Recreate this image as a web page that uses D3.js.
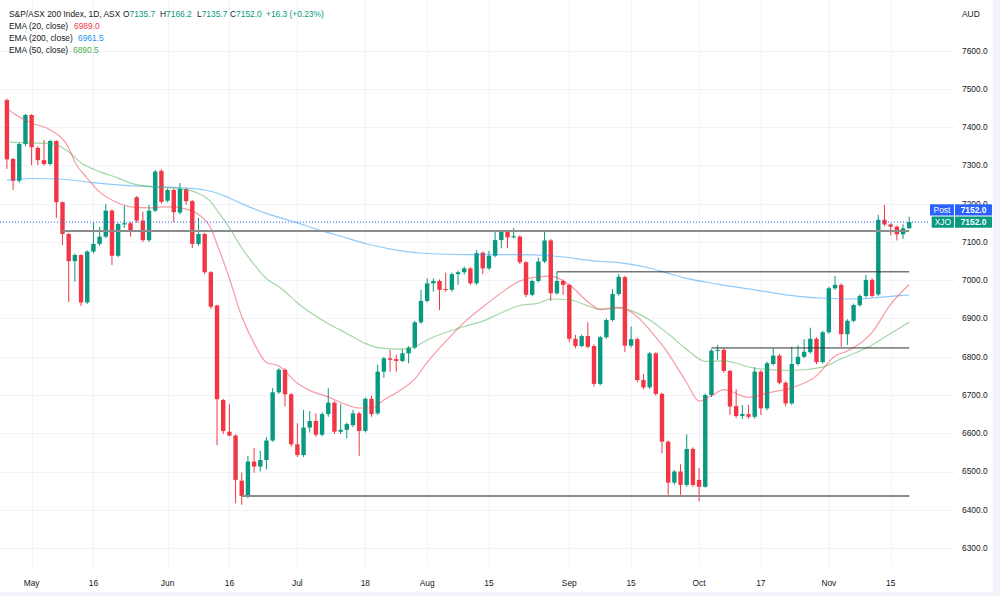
<!DOCTYPE html>
<html>
<head>
<meta charset="utf-8">
<title>S&amp;P/ASX 200 Index, 1D</title>
<script src="https://d3js.org/d3.v7.min.js"></script>
<style>
  body { margin: 0; background: #fff; }
  text { font-family: "Liberation Sans", Arial, sans-serif; font-size: 8.4px; fill: #131722; }
</style>
</head>
<body>
<div id="chart"></div>
<script>
// daily bars, ASX trading days 2022 (Apr 26 .. Nov 18)
var dates = [
  "04-26","04-27","04-28","04-29",
  "05-02","05-03","05-04","05-05","05-06","05-09","05-10","05-11","05-12","05-13","05-16","05-17","05-18","05-19","05-20","05-23","05-24","05-25","05-26","05-27","05-30","05-31",
  "06-01","06-02","06-03","06-06","06-07","06-08","06-09","06-10","06-14","06-15","06-16","06-17","06-20","06-21","06-22","06-23","06-24","06-27","06-28","06-29","06-30",
  "07-01","07-04","07-05","07-06","07-07","07-08","07-11","07-12","07-13","07-14","07-15","07-18","07-19","07-20","07-21","07-22","07-25","07-26","07-27","07-28","07-29",
  "08-01","08-02","08-03","08-04","08-05","08-08","08-09","08-10","08-11","08-12","08-15","08-16","08-17","08-18","08-19","08-22","08-23","08-24","08-25","08-26","08-29","08-30","08-31",
  "09-01","09-02","09-05","09-06","09-07","09-08","09-09","09-12","09-13","09-14","09-15","09-16","09-19","09-20","09-21","09-23","09-26","09-27","09-28","09-29","09-30",
  "10-03","10-04","10-05","10-06","10-07","10-10","10-11","10-12","10-13","10-14","10-17","10-18","10-19","10-20","10-21","10-24","10-25","10-26","10-27","10-28","10-31",
  "11-01","11-02","11-03","11-04","11-07","11-08","11-09","11-10","11-11","11-14","11-15","11-16","11-17","11-18"
];
var open = [
  7471,7317,7260,7356,
  7432,7346,7314,7304,7364,7204,7121,7050,7066,6942,7075,7095,7114,7182,7064,7146,7149,7217,7156,7105,7182,7286,
  7208,7236,7177,7238,7207,7095,7121,7021,6934,6687,6604,6594,6476,6436,6526,6513,6530,6581,6707,6766,6702,
  6571,6543,6615,6632,6596,6650,6680,6604,6609,6621,6652,6606,6690,6652,6761,6796,6794,6789,6809,6824,6890,
  6946,6992,6998,6977,6975,7016,7021,7031,6992,7072,7031,7064,7105,7127,7112,7114,7047,6962,6998,7049,7104,6966,6998,
  6988,6847,6828,6854,6828,6729,6851,6896,6964,7008,6829,6846,6739,6720,6809,6703,6578,6471,6500,6465,6559,
  6478,6460,6700,6816,6818,6763,6671,6645,6650,6643,6761,6665,6781,6803,6732,6678,6781,6800,6812,6847,6786,
  6864,6979,6988,6859,6894,6935,6959,7001,6963,7158,7146,7140,7120,7135.7
];
var high = [
  7475,7320,7360,7435,
  7434,7350,7367,7367,7366,7206,7123,7070,7068,7078,7151,7139,7199,7185,7150,7195,7152,7220,7179,7197,7288,7290,
  7240,7240,7254,7242,7210,7163,7124,7024,6936,6690,6676,6597,6497,6541,6561,6554,6590,6718,6770,6770,6705,
  6626,6661,6658,6652,6655,6718,6684,6676,6628,6661,6656,6694,6698,6779,6800,6818,6805,6820,6828,6894,6975,
  7005,7005,7002,7020,7020,7025,7036,7034,7079,7075,7077,7131,7131,7130,7136,7118,7050,7002,7059,7129,7108,7022,7002,
  6990,6857,6858,6890,6832,6855,6900,6977,7016,7012,6879,6850,6755,6813,6812,6706,6581,6504,6519,6597,6563,
  6509,6704,6820,6831,6822,6766,6715,6674,6674,6773,6765,6787,6822,6807,6736,6826,6830,6846,6876,6851,6868,
  6983,7011,6992,6898,6939,6963,7014,7005,7171,7197,7149,7143,7146,7166.2
];
var low = [
  7291,7236,7255,7350,
  7301,7301,7300,7300,7163,7092,6943,6996,6933,6938,7070,7090,7110,7040,7060,7137,7114,7150,7100,7100,7178,7200,
  7204,7152,7172,7197,7084,7090,7016,6925,6569,6598,6592,6417,6413,6430,6497,6500,6506,6578,6703,6670,6565,
  6538,6538,6602,6590,6592,6643,6598,6598,6587,6616,6541,6602,6643,6648,6745,6761,6761,6786,6783,6820,6886,
  6942,6970,6922,6970,6970,6988,7015,6988,6988,7016,7027,7060,7084,7084,7110,7042,6956,6958,6994,7045,6946,6962,6962,
  6838,6822,6825,6822,6722,6725,6847,6892,6960,6812,6824,6733,6715,6716,6698,6548,6439,6466,6439,6460,6460,
  6422,6458,6695,6792,6758,6648,6640,6637,6638,6638,6648,6660,6777,6728,6670,6674,6777,6796,6808,6781,6782,
  6860,6975,6826,6831,6890,6931,6955,6956,6959,7142,7117,7104,7108,7135.7
];
var close = [
  7316,7260,7356,7432,
  7348,7314,7304,7364,7204,7121,7050,7066,6942,7075,7095,7114,7182,7064,7147,7149,7130,7156,7105,7182,7284,7205,
  7236,7178,7239,7207,7095,7121,7021,6931,6689,6606,6594,6478,6436,6526,6513,6530,6581,6707,6766,6702,6571,
  6543,6615,6632,6596,6650,6680,6604,6609,6624,6652,6606,6690,6650,6761,6796,6792,6789,6809,6824,6890,6946,
  6992,6998,6975,6975,7016,7021,7031,6992,7071,7031,7064,7105,7127,7112,7115,7047,6962,6998,7049,7104,6966,6998,6988,
  6847,6828,6854,6826,6729,6851,6896,6964,7009,6829,6846,6739,6720,6809,6703,6578,6471,6500,6465,6559,6465,
  6460,6700,6816,6818,6763,6670,6645,6650,6643,6761,6665,6783,6803,6732,6678,6781,6800,6813,6847,6786,6864,
  6979,6988,6859,6894,6935,6959,7001,6959,7158,7146,7140,7120,7135.7,7152.0
];

// EMA values at sample dates
var ema20 = [
  ["04-26",7450],["04-27",7437],["05-02",7411],["05-05",7393],["05-10",7346],["05-11",7309],["05-13",7267],
  ["05-17",7231],["05-20",7202],["05-24",7192],["05-27",7189],["05-31",7192],["06-02",7192],["06-06",7186],
  ["06-08",7172],["06-10",7136],["06-14",7094],["06-16",7005],["06-20",6905],["06-22",6835],["06-24",6785],
  ["06-28",6776],["07-01",6731],["07-05",6712],["07-08",6695],["07-13",6674],["07-15",6666],["07-19",6666],
  ["07-21",6687],["07-25",6706],["07-28",6742],["08-01",6785],["08-04",6840],["08-09",6890],["08-12",6930],
  ["08-17",6967],["08-22",6998],["08-25",7009],["08-29",7011],["09-01",6988],["09-06",6944],["09-08",6924],
  ["09-13",6929],["09-16",6905],["09-20",6870],["09-26",6809],["09-29",6732],["10-03",6684],["10-05",6698],
  ["10-07",6714],["10-13",6694],["10-18",6705],["10-24",6719],["10-28",6750],["11-02",6802],["11-04",6815],
  ["11-10",6864],["11-15",6937],["11-18",6989.0]
];
var ema50 = [
  ["04-26",7362],["05-02",7359],["05-05",7358],["05-10",7336],["05-12",7307],["05-17",7284],["05-20",7267],
  ["05-24",7254],["05-27",7245],["06-01",7242],["06-03",7239],["06-08",7227],["06-10",7205],["06-14",7183],
  ["06-16",7137],["06-20",7085],["06-22",7041],["06-24",7004],["06-28",6983],["06-30",6956],["07-01",6941],
  ["07-08",6886],["07-13",6861],["07-18",6835],["07-20",6824],["07-26",6820],["07-28",6826],["08-01",6844],
  ["08-09",6879],["08-12",6893],["08-17",6915],["08-22",6934],["08-25",6940],["08-29",6951],["09-01",6949],
  ["09-06",6933],["09-08",6924],["09-13",6927],["09-16",6914],["09-20",6896],["09-26",6860],["09-29",6819],
  ["10-04",6788],["10-07",6789],["10-14",6770],["10-24",6764],["10-31",6773],["11-03",6795],["11-09",6822],
  ["11-15",6861],["11-18",6890.5]
];
var ema200 = [
  ["04-26",7262],["05-02",7266],["05-09",7264],["05-16",7255],["05-23",7248],["05-30",7245],["06-06",7241],
  ["06-09",7236],["06-14",7228],["06-16",7215],["06-21",7193],["06-24",7175],["07-01",7150],["07-07",7129],
  ["07-12",7115],["07-18",7096],["07-25",7079],["08-01",7070],["08-09",7067],["08-22",7067],["08-29",7064],
  ["09-08",7049],["09-13",7046],["09-20",7032],["09-26",7018],["09-29",7005],["10-06",6990],["10-14",6975],
  ["10-21",6962],["10-31",6953],["11-07",6951],["11-15",6958],["11-18",6961.5]
];

// drawn support / resistance levels
var levelPrices = [7129, 7022, 6823, 6436];
var levelFrom = ["05-09", "08-30", "10-05", "06-20"];
var levelTo = "11-18";

var tickDates = ["05-02","05-16","06-01","06-16","07-01","07-18","08-01","08-15","09-01","09-15","10-03","10-17","11-01","11-15"];
var tickLabels = ["May","16","Jun","16","Jul","18","Aug","15","Sep","15","Oct","17","Nov","15"];
var priceTicks = [6300, 6400, 6500, 6600, 6700, 6800, 6900, 7000, 7100, 7200, 7300, 7400, 7500, 7600];

var width = 1000, height = 596,
    paneRight = 955, paneBottom = 567,
    bodyW = 4.4,
    up = "#089981", down = "#f23645";

var idx = {};
dates.forEach(function(d, i) { idx[d] = i; });

var x = d3.scaleLinear().domain([0, dates.length - 1]).range([6.9, 909.2]);
var y = d3.scaleLinear().domain([6300, 7600]).range([548, 50.75]);

var bars = dates.map(function(d, i) {
  return { date: d, i: i, o: open[i], h: high[i], l: low[i], c: close[i] };
});

var svg = d3.select("#chart").append("svg")
    .attr("width", width)
    .attr("height", height);

svg.append("rect").attr("width", width).attr("height", height).attr("fill", "#f0f3fa");
svg.append("rect").attr("width", 993).attr("height", 592).attr("fill", "#fff");

svg.append("clipPath").attr("id", "pane")
  .append("rect").attr("width", paneRight).attr("height", paneBottom);

// grid
var grid = svg.append("g");
grid.selectAll(".hgrid").data(priceTicks).enter().append("line")
    .attr("x1", 0).attr("x2", paneRight)
    .attr("y1", function(d) { return Math.round(y(d)) + 0.5; })
    .attr("y2", function(d) { return Math.round(y(d)) + 0.5; })
    .attr("stroke", "#f0f3fa");
grid.selectAll(".vgrid").data(tickDates).enter().append("line")
    .attr("x1", function(d) { return Math.round(x(idx[d])) + 0.5; })
    .attr("x2", function(d) { return Math.round(x(idx[d])) + 0.5; })
    .attr("y1", 0).attr("y2", paneBottom)
    .attr("stroke", "#f0f3fa");

var pane = svg.append("g").attr("clip-path", "url(#pane)");

// candles
pane.selectAll(".wick").data(bars).enter().append("line")
    .attr("class", "wick")
    .attr("x1", function(d) { return x(d.i); })
    .attr("x2", function(d) { return x(d.i); })
    .attr("y1", function(d) { return y(d.h); })
    .attr("y2", function(d) { return y(d.l); })
    .attr("stroke", function(d) { return d.c >= d.o ? up : down; })
    .attr("stroke-width", 1);
pane.selectAll(".body").data(bars).enter().append("rect")
    .attr("class", "body")
    .attr("x", function(d) { return x(d.i) - bodyW / 2; })
    .attr("width", bodyW)
    .attr("y", function(d) { return y(Math.max(d.o, d.c)); })
    .attr("height", function(d) { return Math.max(1, Math.abs(y(d.o) - y(d.c))); })
    .attr("fill", function(d) { return d.c >= d.o ? up : down; });

// moving averages
var emaLine = d3.line()
    .x(function(d) { return x(idx[d[0]]); })
    .y(function(d) { return y(d[1]); })
    .curve(d3.curveMonotoneX);
[[ema200, "#2196f3"], [ema50, "#4caf50"], [ema20, "#f23645"]].forEach(function(s) {
  pane.append("path")
      .datum(s[0])
      .attr("d", emaLine)
      .attr("fill", "none")
      .attr("stroke", s[1])
      .attr("stroke-opacity", 0.5)
      .attr("stroke-width", 1.2);
});

// horizontal levels
pane.selectAll(".level").data(levelPrices).enter().append("line")
    .attr("x1", function(d, i) { return x(idx[levelFrom[i]]); })
    .attr("x2", x(idx[levelTo]))
    .attr("y1", function(d) { return y(d); })
    .attr("y2", function(d) { return y(d); })
    .attr("stroke", function(d, i) { return (i === 0 || i === 3) ? "#8c8c8c" : "#333"; })
    .attr("stroke-width", function(d, i) { return (i === 0 || i === 3) ? 2 : 1; });

// last price line
var last = close[close.length - 1];
svg.append("line")
    .attr("x1", 0).attr("x2", 930)
    .attr("y1", y(last)).attr("y2", y(last))
    .attr("stroke", "#2962ff")
    .attr("stroke-dasharray", "1,2");

// price axis
svg.selectAll(".plabel").data(priceTicks).enter().append("text")
    .attr("x", 962)
    .attr("y", function(d) { return y(d); })
    .attr("dy", "0.35em")
    .text(function(d) { return d3.format(".1f")(d); });
svg.append("text").attr("x", 962).attr("y", 14).attr("dy", "0.35em").text("AUD");

// time axis
svg.selectAll(".tlabel").data(tickDates).enter().append("text")
    .attr("x", function(d) { return x(idx[d]); })
    .attr("y", 583.5)
    .attr("dy", "0.35em")
    .attr("text-anchor", "middle")
    .text(function(d, i) { return tickLabels[i]; });

// price tags
var ly = y(last);
function tag(top, left, color, name) {
  svg.append("rect").attr("x", left).attr("y", top).attr("width", 954 - left).attr("height", 11.2).attr("fill", color);
  svg.append("rect").attr("x", 955).attr("y", top).attr("width", 37).attr("height", 11.2).attr("fill", color);
  svg.append("text").attr("x", (left + 954) / 2).attr("y", top + 5.6).attr("dy", "0.35em")
      .attr("text-anchor", "middle").style("fill", "#fff").text(name);
  svg.append("text").attr("x", 973.5).attr("y", top + 5.6).attr("dy", "0.35em")
      .attr("text-anchor", "middle").style("fill", "#fff").style("font-weight", "bold")
      .text(d3.format(".1f")(last));
}
tag(ly - 5.6 - 12.2, 930, "#2962ff", "Post");
tag(ly - 5.6, 931.7, up, "XJO");

// legend
var lg = svg.append("g");
lg.append("text").attr("x", 9).attr("y", 14).attr("dy", "0.35em").text("S&P/ASX 200 Index, 1D, ASX");
var ohlc = [["O", open], ["H", high], ["L", low], ["C", close]];
var ohlcX = [123, 160, 197, 230];
ohlc.forEach(function(p, k) {
  var t = lg.append("text").attr("x", ohlcX[k]).attr("y", 14).attr("dy", "0.35em");
  t.append("tspan").text(p[0]);
  t.append("tspan").style("fill", up).text(d3.format(".1f")(p[1][p[1].length - 1]));
});
var chg = close[close.length - 1] - close[close.length - 2];
lg.append("text").attr("x", 266).attr("y", 14).attr("dy", "0.35em").style("fill", up)
    .text("+" + d3.format(".1f")(chg) + " (+" + d3.format(".2f")(chg / close[close.length - 2] * 100) + "%)");

var emaLegend = [["EMA (20, close)", ema20, "#f23645", 74], ["EMA (200, close)", ema200, "#2196f3", 78], ["EMA (50, close)", ema50, "#4caf50", 73]];
emaLegend.forEach(function(e, k) {
  var yy = 26 + k * 12;
  lg.append("text").attr("x", 9).attr("y", yy).attr("dy", "0.35em").text(e[0]);
  lg.append("text").attr("x", e[3]).attr("y", yy).attr("dy", "0.35em").style("fill", e[2])
      .text(d3.format(".1f")(e[1][e[1].length - 1][1]));
});
</script>
</body>
</html>
